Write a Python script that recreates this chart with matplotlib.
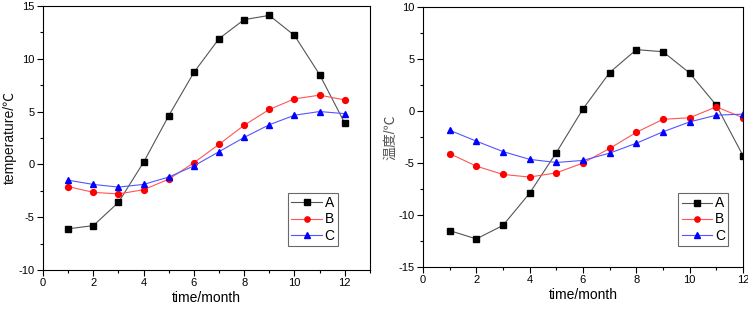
import matplotlib
matplotlib.use('Agg')
import matplotlib.pyplot as plt
from matplotlib.ticker import MultipleLocator

plt.rcParams['font.family'] = ['Liberation Sans', 'Noto Sans CJK SC', 'DejaVu Sans']
plt.rcParams['axes.unicode_minus'] = False

months = list(range(1, 13))

# left panel (temperature/℃)
left_a = [-6.1, -5.8, -3.6, 0.2, 4.6, 8.7, 11.9, 13.7, 14.1, 12.2, 8.5, 3.9]
left_b = [-2.1, -2.65, -2.8, -2.4, -1.4, 0.15, 1.9, 3.7, 5.2, 6.2, 6.55, 6.1]
left_c = [-1.5, -1.9, -2.15, -1.9, -1.2, -0.15, 1.2, 2.55, 3.75, 4.65, 5.0, 4.8]

# right panel (温度/℃)
right_a = [-11.5, -12.3, -11.0, -7.9, -4.0, 0.2, 3.7, 5.9, 5.7, 3.65, 0.55, -4.3]
right_b = [-4.1, -5.3, -6.1, -6.35, -5.95, -5.0, -3.6, -2.05, -0.8, -0.65, 0.4, -0.65]
right_c = [-1.85, -2.9, -3.9, -4.65, -4.95, -4.75, -4.05, -3.1, -2.0, -1.05, -0.4, -0.3]

labels = ['A', 'B', 'C']
STYLES = [('#000000', '#555555', 's'), ('#ff0000', '#ff5555', 'o'), ('#0000ff', '#5555ff', '^')]


def draw_panel(ax, series, xlim, ylim, ylabel, ylabel_color, legend_loc):
    for vals, lab, (mc, lc, mk) in zip(series, labels, STYLES):
        ax.plot(months, vals, color=lc, linewidth=0.8, marker=mk, markersize=4.2,
                markerfacecolor=mc, markeredgecolor=mc, label=lab)
    ax.set_xlim(*xlim)
    ax.set_ylim(*ylim)
    ax.xaxis.set_major_locator(MultipleLocator(2))
    ax.xaxis.set_minor_locator(MultipleLocator(1))
    ax.yaxis.set_major_locator(MultipleLocator(5))
    ax.yaxis.set_minor_locator(MultipleLocator(2.5))
    ax.tick_params(which='major', direction='out', length=4, width=0.8, labelsize=8, pad=2)
    ax.tick_params(which='minor', direction='out', length=2.5, width=0.8)
    for s in ax.spines.values():
        s.set_linewidth(0.8)
    ax.set_xlabel('time/month', fontsize=10, labelpad=2)
    ax.set_ylabel(ylabel, fontsize=10, labelpad=1, color=ylabel_color)
    leg = ax.legend(loc='upper left', bbox_to_anchor=legend_loc, fontsize=10,
                    frameon=True, fancybox=False, edgecolor='#444444',
                    handlelength=2.2, handletextpad=0.2, borderpad=0.25,
                    labelspacing=0.15, borderaxespad=0, markerscale=0.9)
    leg.get_frame().set_linewidth(0.8)


fig = plt.figure(figsize=(7.48, 3.10), dpi=100)
ax1 = fig.add_axes([0.0575, 0.129, 0.437, 0.852])
ax2 = fig.add_axes([0.5655, 0.1387, 0.4278, 0.8387])

draw_panel(ax1, [left_a, left_b, left_c], (0, 13), (-10, 15),
           'temperature/℃', '#111111', (0.749, 0.292))
draw_panel(ax2, [right_a, right_b, right_c], (0, 12), (-15, 10),
           '温度/℃', '#555555', (0.797, 0.285))

fig.savefig('out.png', dpi=100, facecolor='white')
